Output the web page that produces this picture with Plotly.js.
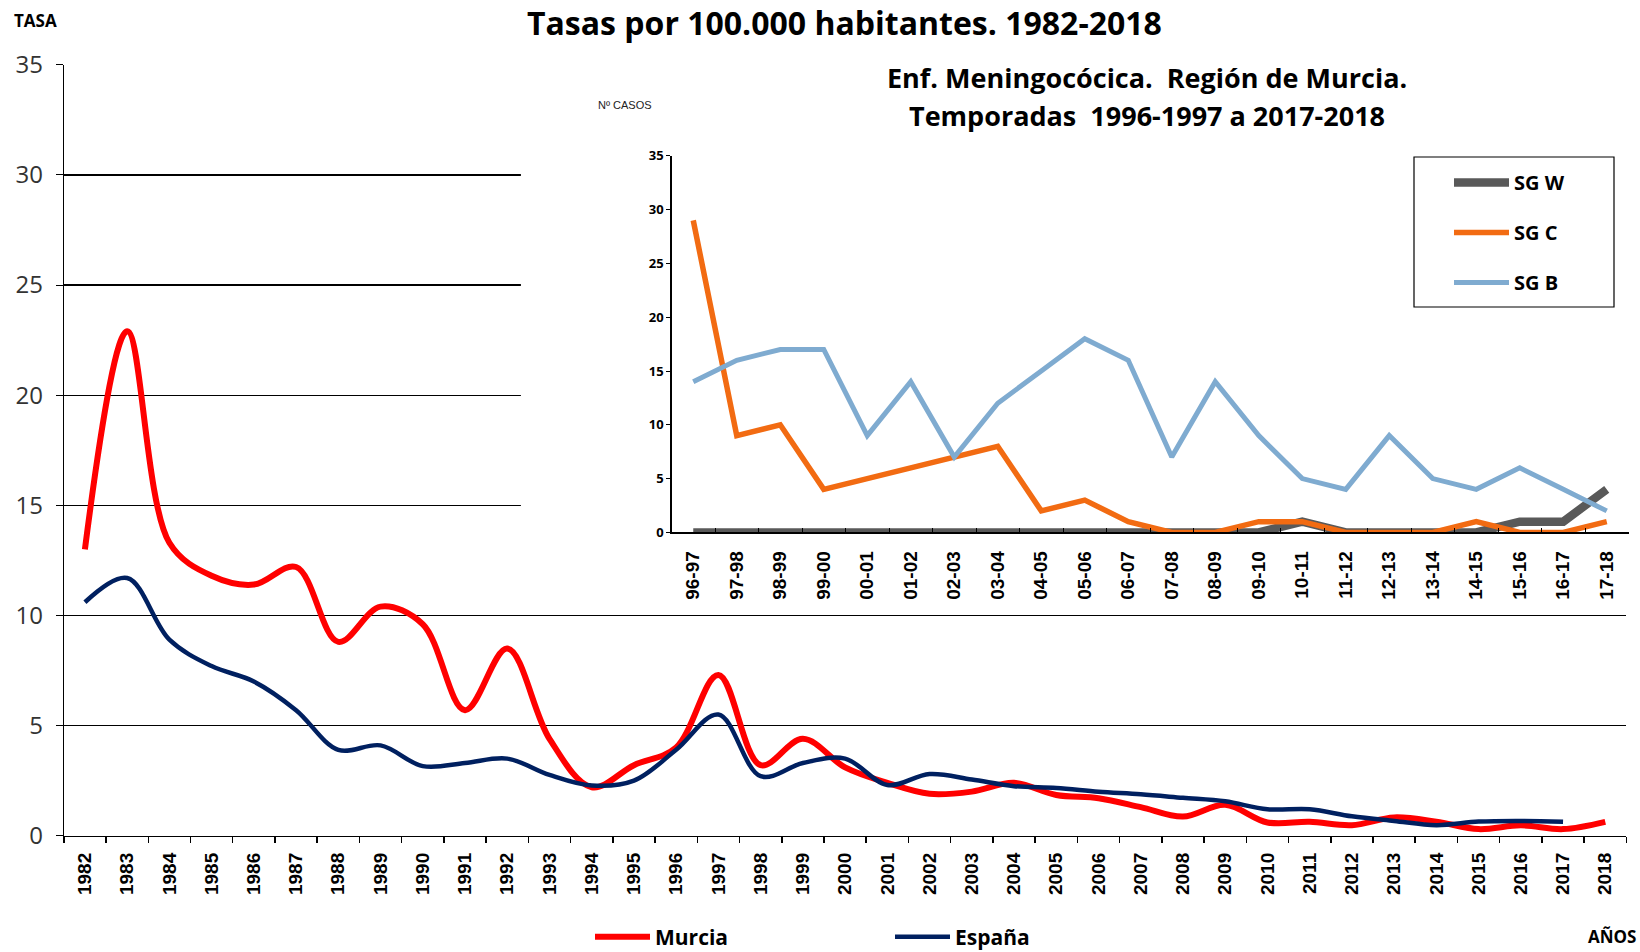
<!DOCTYPE html>
<html><head><meta charset="utf-8">
<script src="https://cdn.plot.ly/plotly-3.0.1.min.js"></script>
<style>html,body{margin:0;padding:0;background:#fff}#chart{width:1640px;height:952px}</style>
</head><body><div id="chart"></div>
<script>
const years = ["1982","1983","1984","1985","1986","1987","1988","1989","1990","1991","1992","1993","1994","1995","1996","1997","1998","1999","2000","2001","2002","2003","2004","2005","2006","2007","2008","2009","2010","2011","2012","2013","2014","2015","2016","2017","2018"];
const murcia = [13.0,22.9,13.3,11.8,11.4,12.2,8.8,10.4,9.6,5.7,8.5,4.4,2.2,3.2,4.0,7.3,3.2,4.4,3.1,2.4,1.9,2.0,2.4,1.85,1.7,1.3,0.87,1.4,0.6,0.63,0.48,0.83,0.64,0.3,0.47,0.3,0.63];
const espana = [10.6,11.7,8.9,7.7,7.0,5.7,3.9,4.1,3.16,3.3,3.5,2.76,2.28,2.5,3.9,5.5,2.7,3.3,3.5,2.3,2.8,2.55,2.25,2.17,2.0,1.88,1.72,1.56,1.2,1.2,0.88,0.67,0.48,0.64,0.67,0.63,null];
const seasons = ["96-97","97-98","98-99","99-00","00-01","01-02","02-03","03-04","04-05","05-06","06-07","07-08","08-09","09-10","10-11","11-12","12-13","13-14","14-15","15-16","16-17","17-18"];
const sgW = [0,0,0,0,0,0,0,0,0,0,0,0,0,0,1,0,0,0,0,1,1,4];
const sgC = [29,9,10,4,5,6,7,8,2,3,1,0,0,1,1,0,0,0,1,0,0,1];
const sgB = [14,16,17,17,9,14,7,12,15,18,16,7,14,9,5,4,9,5,4,6,4,2];
const mainTicks = [0,5,10,15,20,25,30,35];

const NARROW = "Open Sans, sans-serif";
const ARIAL = "Liberation Sans, Arial, sans-serif";
const W = 1640, H = 952;
const px = v => v / W;
const py = v => (H - v) / H;

const traces = [
  {x: years, y: murcia, type: 'scatter', mode: 'lines', name: 'Murcia',
   line: {color: '#FF0000', width: 6, shape: 'spline', smoothing: 1}, xaxis: 'x', yaxis: 'y', legend: 'legend'},
  {x: years, y: espana, type: 'scatter', mode: 'lines', name: 'España',
   line: {color: '#002060', width: 4.5, shape: 'spline', smoothing: 1}, xaxis: 'x', yaxis: 'y', legend: 'legend'},
  {x: [], y: [], type: 'scatter', mode: 'lines', xaxis: 'x2', yaxis: 'y2', showlegend: false, hoverinfo: 'skip'},
  {x: seasons, y: sgW, type: 'scatter', mode: 'lines', name: 'SG W', legendgroup: 'w',
   line: {color: '#595959', width: 8.5}, xaxis: 'x3', yaxis: 'y3', legend: 'legend2'},
  {x: seasons, y: sgC, type: 'scatter', mode: 'lines', name: 'SG C', legendgroup: 'c',
   line: {color: '#F26B12', width: 5.5}, xaxis: 'x3', yaxis: 'y3', legend: 'legend2'},
  {x: seasons, y: sgB, type: 'scatter', mode: 'lines', name: 'SG B', legendgroup: 'b',
   line: {color: '#7FABD0', width: 5}, xaxis: 'x3', yaxis: 'y3', legend: 'legend2'}
];

const layout = {
  width: W, height: H,
  margin: {l: 0, r: 0, t: 0, b: 0, autoexpand: false},
  paper_bgcolor: '#ffffff', plot_bgcolor: '#ffffff',
  showlegend: true,
  xaxis: {
    domain: [px(63.8), px(1626.4)], anchor: 'y', type: 'category', range: [-0.5, 36.5],
    showline: true, linecolor: '#000', linewidth: 1.5, showgrid: false, zeroline: false,
    ticks: 'outside', tickson: 'boundaries', ticklen: 6, tickcolor: '#000', tickwidth: 1.5,
    ticklabelstandoff: 8,
    tickangle: -90, tickfont: {family: ARIAL, size: 19, color: '#000', weight: 'bold'}
  },
  yaxis: {
    domain: [py(835.7), py(64.8)], anchor: 'x', range: [0, 35], tickvals: mainTicks,
    showline: true, linecolor: '#000', linewidth: 1, showgrid: true, gridcolor: '#000', gridwidth: 1.2,
    zeroline: false, ticks: 'outside', ticklen: 7, tickcolor: '#000',
    ticklabelstandoff: 8,
    tickfont: {family: NARROW, size: 24, color: '#333'}
  },
  xaxis2: {domain: [px(520.9), 1], anchor: 'y2', visible: false, range: [0, 1], fixedrange: true},
  yaxis2: {domain: [py(605), py(50)], anchor: 'x2', visible: false, range: [0, 1], fixedrange: true},
  xaxis3: {
    domain: [px(671.5), px(1628.5)], anchor: 'y3', type: 'category', range: [-0.5, 21.5],
    showline: true, linecolor: '#000', linewidth: 1.2, showgrid: false, zeroline: false,
    ticks: 'inside', tickson: 'boundaries', ticklen: 4, tickcolor: '#000',
    ticklabelstandoff: 10,
    tickangle: -90, tickfont: {family: ARIAL, size: 19, color: '#000', weight: 'bold'}
  },
  yaxis3: {
    domain: [py(532.4), py(155.8)], anchor: 'x3', range: [0, 35], tickvals: mainTicks,
    showline: true, linecolor: '#000', linewidth: 1.2, showgrid: false, zeroline: false,
    ticks: 'outside', ticklen: 4, tickcolor: '#000',
    tickfont: {family: NARROW, size: 13, color: '#000', weight: 'bold'}
  },
  legend: {
    orientation: 'h', x: px(590), y: py(937), xanchor: 'left', yanchor: 'middle',
    bgcolor: 'rgba(0,0,0,0)', borderwidth: 0, itemwidth: 55, entrywidth: 230,
    font: {family: NARROW, size: 21, color: '#000', weight: 'bold'}
  },
  legend2: {
    orientation: 'v', x: px(1449), y: py(163), xanchor: 'left', yanchor: 'top',
    bgcolor: 'rgba(0,0,0,0)', borderwidth: 0, itemwidth: 55,
    traceorder: 'grouped', tracegroupgap: 21,
    font: {family: NARROW, size: 20, color: '#000', weight: 'bold'}
  },
  shapes: [
    {type: 'rect', xref: 'paper', yref: 'paper', x0: px(1414), x1: px(1614), y0: py(307), y1: py(157),
     line: {color: '#000', width: 1.2}, fillcolor: 'rgba(0,0,0,0)', layer: 'above'}
  ],
  annotations: [
    {text: 'Tasas por 100.000 habitantes. 1982-2018', xref: 'paper', yref: 'paper',
     x: px(844), y: py(46), xanchor: 'center', yanchor: 'bottom', showarrow: false,
     font: {family: NARROW, size: 32, color: '#000', weight: 'bold'}},
    {text: 'TASA', xref: 'paper', yref: 'paper', x: px(12), y: py(20), xanchor: 'left', yanchor: 'middle',
     showarrow: false, font: {family: NARROW, size: 17, color: '#000', weight: 'bold'}},
    {text: 'AÑOS', xref: 'paper', yref: 'paper', x: px(1638), y: py(936), xanchor: 'right', yanchor: 'middle',
     showarrow: false, font: {family: NARROW, size: 17, color: '#000', weight: 'bold'}},
    {text: 'Nº CASOS', xref: 'paper', yref: 'paper', x: px(596), y: py(104.6), xanchor: 'left', yanchor: 'middle',
     showarrow: false, font: {family: ARIAL, size: 11, color: '#222'}},
    {text: 'Enf. Meningocócica.  Región de Murcia.', xref: 'paper', yref: 'paper', x: px(1147), y: py(77.4),
     xanchor: 'center', yanchor: 'middle', showarrow: false,
     font: {family: NARROW, size: 27, color: '#000', weight: 'bold'}},
    {text: 'Temporadas  1996-1997 a 2017-2018', xref: 'paper', yref: 'paper', x: px(1147), y: py(115),
     xanchor: 'center', yanchor: 'middle', showarrow: false,
     font: {family: NARROW, size: 27, color: '#000', weight: 'bold'}}
  ]
};

Plotly.newPlot('chart', traces, layout, {displayModeBar: false, staticPlot: true});
</script>
</body></html>
